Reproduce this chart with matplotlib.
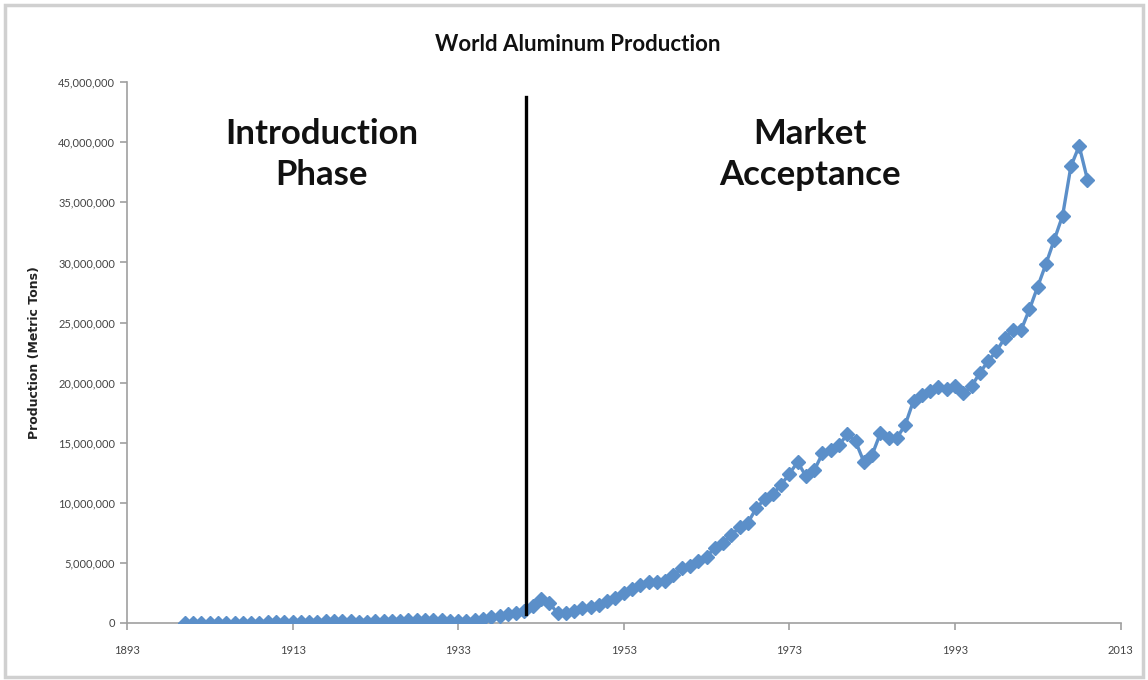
import matplotlib
matplotlib.use("Agg")
import matplotlib.pyplot as plt
from matplotlib.ticker import FuncFormatter, MultipleLocator
from matplotlib.patches import Rectangle

years = list(range(1900, 2010))
production = [
    7300, 7500, 7800, 8200, 9300, 11500, 14500, 19800, 18900, 31100,
    44400, 46100, 61100, 65300, 70800, 81400, 112000, 132000, 138000, 130000,
    128000, 90000, 96000, 140000, 174000, 182000, 197000, 203000, 246000, 275000,
    269000, 220000, 153000, 142000, 171000, 260000, 360000, 493000, 583000, 704000,
    792000, 1030000, 1390000, 1950000, 1680000, 802000, 781000, 1010000, 1250000, 1290000,
    1500000, 1790000, 2040000, 2450000, 2800000, 3130000, 3380000, 3410000, 3480000, 4010000,
    4540000, 4700000, 5130000, 5500000, 6250000, 6620000, 7280000, 8000000, 8350000, 9540000,
    10300000, 10700000, 11500000, 12400000, 13400000, 12200000, 12700000, 14100000, 14400000, 14800000,
    15700000, 15100000, 13400000, 14000000, 15800000, 15400000, 15400000, 16500000, 18500000, 19000000,
    19300000, 19600000, 19500000, 19700000, 19100000, 19700000, 20800000, 21800000, 22600000, 23700000,
    24400000, 24400000, 26100000, 28000000, 29900000, 31900000, 33900000, 38000000, 39700000, 36900000,
]
x_ticks = [1893, 1913, 1933, 1953, 1973, 1993, 2013]
divider_year = 1941.2
divider_range = (750000, 43800000)
phase_labels = ["Introduction\nPhase", "Market\nAcceptance"]
phase_label_x = [1916.5, 1975.5]

plt.rcParams["font.family"] = ["Lato", "DejaVu Sans"]

fig = plt.figure(figsize=(11.48, 6.8), dpi=100)
ax = fig.add_axes([0.1106, 0.084, 0.8655, 0.795])

blue = "#5B8FC9"
ax.plot(years, production, color=blue, lw=2.4, marker="D", ms=7,
        markerfacecolor=blue, markeredgecolor=blue, zorder=3)

ax.plot([divider_year, divider_year], divider_range, color="black", lw=2.4, zorder=4)

for label, xpos in zip(phase_labels, phase_label_x):
    ax.text(xpos, 39000000, label, ha="center", va="center", fontsize=25,
            fontweight="bold", color="#111111", linespacing=1.35)

ax.set_xlim(1893, 2013)
ax.set_ylim(0, 45000000)
ax.set_xticks(x_ticks)
ax.yaxis.set_major_locator(MultipleLocator(5000000))
ax.yaxis.set_major_formatter(FuncFormatter(lambda v, p: f"{int(v):,}"))

for side in ("top", "right"):
    ax.spines[side].set_visible(False)
for side in ("left", "bottom"):
    ax.spines[side].set_color("#a0a0a0")
    ax.spines[side].set_linewidth(1.2)
ax.tick_params(axis="both", colors="#a0a0a0", length=5, width=1.2,
               labelcolor="#444444", labelsize=8)
ax.tick_params(axis="x", pad=11)

ax.set_ylabel("Production (Metric Tons)", fontsize=9, fontweight="bold",
              color="#222222", labelpad=12, family=["DejaVu Sans"])
fig.text(0.503, 0.935, "World Aluminum Production", ha="center", va="center",
         fontsize=16, fontweight="bold", color="#111111")

fig.patches.append(Rectangle((0.004, 0.004), 0.992, 0.988, transform=fig.transFigure,
                             fill=False, edgecolor="#d0d0d0", lw=2.5))

fig.savefig("out.png", dpi=100, facecolor="white")
